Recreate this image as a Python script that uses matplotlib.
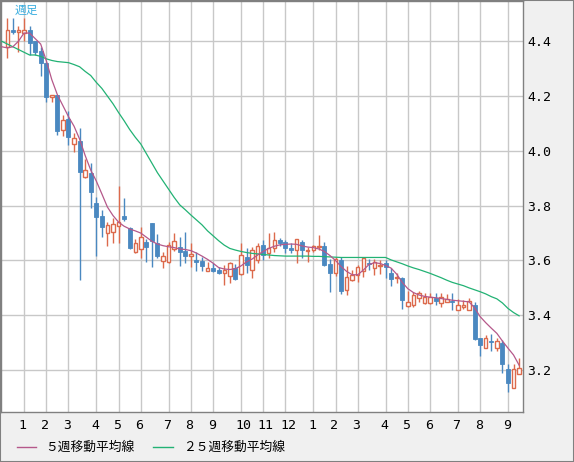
import numpy as np
import matplotlib.pyplot as plt
from matplotlib.lines import Line2D
from matplotlib.patches import Rectangle
from matplotlib.transforms import ScaledTranslation

# weekly candles (index 0 = last week of December)
opens = [4.380, 4.442, 4.435, 4.430, 4.442, 4.400, 4.365, 4.322, 4.195, 4.203,
         4.076, 4.116, 4.024, 4.036, 3.903, 3.920, 3.808, 3.762, 3.699, 3.703,
         3.727, 3.763, 3.720, 3.630, 3.642, 3.666, 3.735, 3.662, 3.598, 3.593,
         3.642, 3.648, 3.634, 3.618, 3.601, 3.599, 3.562, 3.571, 3.565, 3.555,
         3.544, 3.573, 3.550, 3.611, 3.567, 3.601, 3.656, 3.626, 3.646, 3.674,
         3.668, 3.644, 3.638, 3.668, 3.634, 3.638, 3.648, 3.653, 3.587, 3.555,
         3.601, 3.492, 3.528, 3.547, 3.563, 3.592, 3.571, 3.580, 3.589, 3.553,
         3.535, 3.535, 3.434, 3.437, 3.462, 3.445, 3.445, 3.462, 3.445, 3.450,
         3.452, 3.421, 3.430, 3.421, 3.437, 3.316, 3.279, 3.307, 3.281, 3.300,
         3.203, 3.133, 3.185]
highs = [4.484, 4.484, 4.455, 4.484, 4.455, 4.400, 4.380, 4.325, 4.205, 4.205,
         4.130, 4.145, 4.067, 4.082, 3.970, 3.957, 3.833, 3.784, 3.741, 3.754,
         3.872, 3.827, 3.723, 3.680, 3.723, 3.680, 3.737, 3.696, 3.632, 3.668,
         3.702, 3.684, 3.705, 3.662, 3.630, 3.611, 3.595, 3.589, 3.577, 3.583,
         3.595, 3.586, 3.665, 3.644, 3.650, 3.665, 3.674, 3.702, 3.705, 3.683,
         3.676, 3.662, 3.680, 3.674, 3.650, 3.655, 3.693, 3.668, 3.604, 3.613,
         3.613, 3.580, 3.565, 3.583, 3.611, 3.604, 3.605, 3.600, 3.600, 3.571,
         3.553, 3.540, 3.489, 3.486, 3.488, 3.480, 3.480, 3.480, 3.480, 3.477,
         3.480, 3.458, 3.455, 3.462, 3.449, 3.318, 3.328, 3.331, 3.316, 3.309,
         3.224, 3.224, 3.245]
lows = [4.338, 4.428, 4.362, 4.400, 4.350, 4.350, 4.273, 4.180, 4.180, 4.058,
        4.054, 4.021, 3.997, 3.530, 3.900, 3.792, 3.617, 3.684, 3.654, 3.665,
        3.665, 3.745, 3.642, 3.628, 3.610, 3.595, 3.577, 3.608, 3.571, 3.591,
        3.635, 3.581, 3.590, 3.577, 3.563, 3.561, 3.560, 3.559, 3.550, 3.510,
        3.516, 3.529, 3.548, 3.555, 3.537, 3.589, 3.601, 3.608, 3.632, 3.654,
        3.626, 3.628, 3.592, 3.608, 3.595, 3.632, 3.638, 3.581, 3.486, 3.543,
        3.476, 3.474, 3.525, 3.522, 3.540, 3.565, 3.547, 3.550, 3.535, 3.507,
        3.516, 3.423, 3.429, 3.430, 3.449, 3.440, 3.440, 3.437, 3.429, 3.448,
        3.419, 3.421, 3.423, 3.419, 3.309, 3.251, 3.279, 3.270, 3.269, 3.190,
        3.121, 3.133, 3.185]
closes = [4.440, 4.435, 4.442, 4.442, 4.395, 4.360, 4.320, 4.195, 4.203, 4.072,
          4.112, 4.049, 4.046, 3.924, 3.932, 3.851, 3.757, 3.723, 3.729, 3.733,
          3.741, 3.750, 3.647, 3.662, 3.684, 3.650, 3.672, 3.617, 3.617, 3.656,
          3.672, 3.632, 3.617, 3.625, 3.595, 3.581, 3.571, 3.562, 3.555, 3.567,
          3.589, 3.531, 3.620, 3.583, 3.638, 3.653, 3.620, 3.644, 3.674, 3.665,
          3.644, 3.638, 3.677, 3.638, 3.638, 3.653, 3.653, 3.583, 3.555, 3.604,
          3.489, 3.538, 3.547, 3.575, 3.608, 3.587, 3.595, 3.585, 3.575, 3.531,
          3.540, 3.455, 3.449, 3.474, 3.480, 3.467, 3.467, 3.453, 3.467, 3.458,
          3.449, 3.437, 3.437, 3.453, 3.313, 3.291, 3.316, 3.302, 3.307, 3.224,
          3.154, 3.203, 3.206]

# moving averages, starting one week before the first candle
ma5 = [4.380, 4.376, 4.380, 4.400, 4.430, 4.430, 4.410, 4.390, 4.330, 4.260,
       4.205, 4.165, 4.125, 4.090, 4.043, 3.983, 3.930, 3.890, 3.843, 3.795,
       3.764, 3.740, 3.725, 3.715, 3.708, 3.700, 3.685, 3.670, 3.660, 3.654,
       3.650, 3.647, 3.642, 3.640, 3.636, 3.627, 3.616, 3.604, 3.590, 3.574,
       3.569, 3.567, 3.570, 3.580, 3.595, 3.605, 3.620, 3.633, 3.644, 3.652,
       3.657, 3.659, 3.660, 3.659, 3.653, 3.649, 3.647, 3.642, 3.633, 3.618,
       3.600, 3.578, 3.560, 3.548, 3.548, 3.565, 3.585, 3.592, 3.589, 3.582,
       3.572, 3.550, 3.520, 3.497, 3.483, 3.474, 3.469, 3.466, 3.464, 3.461,
       3.458, 3.455, 3.453, 3.451, 3.449, 3.427, 3.395, 3.373, 3.353, 3.334,
       3.306, 3.280, 3.255, 3.218]
ma25 = [4.400, 4.390, 4.380, 4.370, 4.360, 4.350, 4.350, 4.345, 4.336, 4.330,
        4.326, 4.324, 4.322, 4.315, 4.307, 4.290, 4.275, 4.250, 4.228, 4.200,
        4.172, 4.140, 4.110, 4.078, 4.050, 4.025, 3.990, 3.955, 3.920, 3.890,
        3.860, 3.830, 3.803, 3.785, 3.766, 3.748, 3.730, 3.708, 3.690, 3.672,
        3.656, 3.644, 3.638, 3.633, 3.629, 3.626, 3.624, 3.622, 3.620, 3.618,
        3.617, 3.616, 3.616, 3.616, 3.616, 3.616, 3.615, 3.615, 3.614, 3.613,
        3.612, 3.611, 3.611, 3.611, 3.611, 3.611, 3.611, 3.611, 3.611, 3.611,
        3.602, 3.595, 3.588, 3.580, 3.573, 3.567, 3.560, 3.553, 3.545, 3.537,
        3.528, 3.520, 3.514, 3.508, 3.500, 3.493, 3.486, 3.478, 3.468, 3.460,
        3.445, 3.425, 3.410, 3.398]

# first week of each month
month_weeks = [3, 7, 11, 16, 20, 24, 29, 33, 37, 42, 46, 50,
               55, 59, 63, 68, 72, 76, 81, 85, 90]
month_labels = ["1", "2", "3", "4", "5", "6", "7", "8", "9", "10", "11", "12",
                "1", "2", "3", "4", "5", "6", "7", "8", "9"]
price_ticks = [3.2, 3.4, 3.6, 3.8, 4.0, 4.2, 4.4]

up_col = "#dc6a4c"
down_col = "#4a88c0"
ma5_col = "#b5588a"
ma25_col = "#22b274"

plt.rcParams['font.family'] = ['Noto Sans CJK JP', 'DejaVu Sans']

fig = plt.figure(figsize=(5.74, 4.62), dpi=100, facecolor="#f0f0f0")
ax = fig.add_axes([1 / 574, 50 / 462, 522 / 574, 411 / 462])
ax.set_facecolor("white")

o = np.array(opens)
h = np.array(highs)
l = np.array(lows)
c = np.array(closes)
x = np.arange(len(c))
up = c >= o

wick_cols = np.where(up, up_col, down_col)
ax.vlines(x, l, h, colors=wick_cols, linewidth=1, zorder=2)

body_bot = np.minimum(o, c)
body_h = np.maximum(np.abs(c - o), 0.003)
ax.bar(x[up], body_h[up], bottom=body_bot[up], width=0.62,
       facecolor="white", edgecolor=up_col, linewidth=1, zorder=3)
ax.bar(x[~up], body_h[~up], bottom=body_bot[~up], width=0.72,
       facecolor=down_col, edgecolor=down_col, linewidth=0.6, zorder=3)

ma_x = np.arange(-1, len(c))
ax.plot(ma_x, ma25, color=ma25_col, linewidth=0.9, zorder=4)
ax.plot(ma_x, ma5, color=ma5_col, linewidth=0.9, zorder=4)

ax.set_xlim(-1.13, 92.7)
ax.set_ylim(3.047, 4.547)

# month labels start just left of each gridline
ax.set_xticks(month_weeks)
ax.set_xticklabels([])
lab_trans = ax.get_xaxis_transform() + ScaledTranslation(-5.3 / 100, -7 / 100, fig.dpi_scale_trans)
for w, lab in zip(month_weeks, month_labels):
    ax.text(w, 0, lab, transform=lab_trans, ha="left", va="top",
            fontfamily="DejaVu Sans Mono", fontsize=9.5)

ax.yaxis.tick_right()
ax.set_yticks(price_ticks)
ax.set_yticklabels([f"{v:.1f}" for v in price_ticks], fontfamily="DejaVu Sans Mono", fontsize=9.5)
ax.tick_params(axis="both", length=0, colors="black")
ax.tick_params(axis="y", pad=3)

ax.grid(True, color="#c8c8c8", linewidth=1)
ax.set_axisbelow(True)
for s in ax.spines.values():
    s.set_color("#808080")
    s.set_linewidth(1)

fig.text(15 / 574, 1 - 10 / 462, "週足", color="#3aaee0", fontsize=8.5, va="center")

# legend along the bottom
ly = (462 - 447) / 462
fig.add_artist(Line2D([17 / 574, 36 / 574], [ly, ly], color=ma5_col, linewidth=1))
fig.text(45 / 574, ly, "５週移動平均線", fontsize=9.2, va="center")
fig.add_artist(Line2D([153 / 574, 173 / 574], [ly, ly], color=ma25_col, linewidth=1))
fig.text(183 / 574, ly, "２５週移動平均線", fontsize=9.2, va="center")

fig.add_artist(Rectangle((0, 0), 1, 1, transform=fig.transFigure, fill=False,
                         edgecolor="#808080", linewidth=1.5))

fig.savefig("out.png", dpi=100, facecolor=fig.get_facecolor())
